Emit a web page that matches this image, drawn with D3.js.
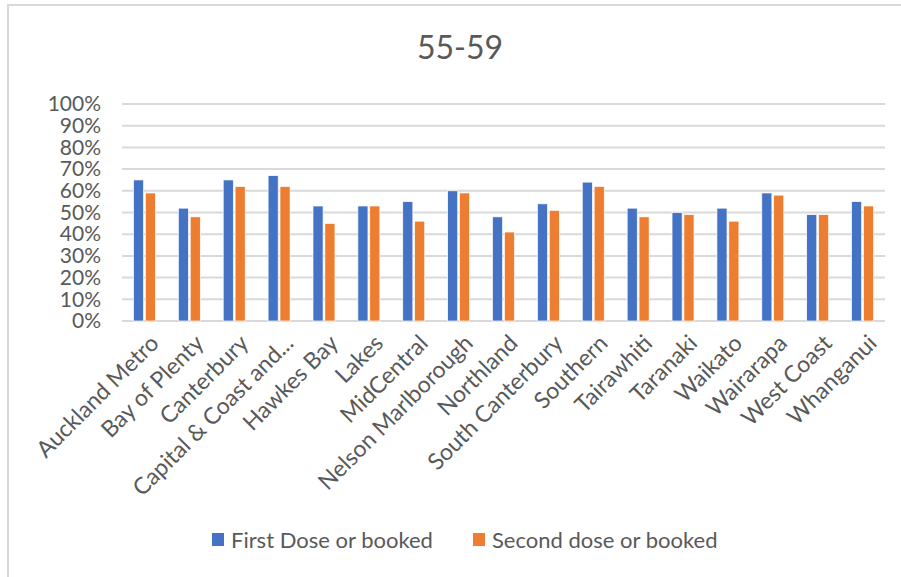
<!DOCTYPE html>
<html>
<head>
<meta charset="utf-8">
<script src="https://cdn.jsdelivr.net/npm/d3@7"></script>
<style>
  body { margin: 0; background: #fff; }
  text { font-family: Lato, "Open Sans", sans-serif; fill: #595959; }
</style>
</head>
<body>
<div id="chart"></div>
<script>
// regions (DHBs) along the x axis
const regions = ["Auckland Metro", "Bay of Plenty", "Canterbury", "Capital & Coast and...", "Hawkes Bay",
  "Lakes", "MidCentral", "Nelson Marlborough", "Northland", "South Canterbury", "Southern",
  "Tairawhiti", "Taranaki", "Waikato", "Wairarapa", "West Coast", "Whanganui"];

// share of 55-59 population, percent
const firstDose  = [65, 52, 65, 67, 53, 53, 55, 60, 48, 54, 64, 52, 50, 52, 59, 49, 55];
const secondDose = [59, 48, 62, 62, 45, 53, 46, 59, 41, 51, 62, 48, 49, 46, 58, 49, 53];

const seriesNames = ["First Dose or booked", "Second dose or booked"];
const seriesColors = ["#4472C4", "#ED7D31"];
const yTicks = [0, 10, 20, 30, 40, 50, 60, 70, 80, 90, 100];

const W = 901, H = 577;
const plot = { left: 122, right: 885, top: 104, bottom: 321 };

const svg = d3.select("#chart").append("svg")
    .attr("width", W)
    .attr("height", H);

// chart frame (only top/left edges are visible in the crop)
svg.append("rect")
    .attr("x", 8).attr("y", 5)
    .attr("width", 1000).attr("height", 1000)
    .attr("fill", "none")
    .attr("stroke", "#d9d9d9")
    .attr("stroke-width", 2);

svg.append("text")
    .attr("x", 460)
    .attr("y", 59)
    .attr("text-anchor", "middle")
    .style("font-size", "32px")
    .text("55-59");

const x0 = d3.scaleBand().domain(regions).range([plot.left, plot.right])
    .paddingInner(0.51).paddingOuter(0.255);
const x1 = d3.scaleBand().domain([0, 1]).range([0, x0.bandwidth()]).paddingInner(0.15);
const y = d3.scaleLinear().domain([0, 100]).range([plot.bottom, plot.top]);

// gridlines
svg.append("g")
    .selectAll("line")
    .data(yTicks)
    .enter().append("line")
    .attr("x1", plot.left).attr("x2", plot.right)
    .attr("y1", d => y(d)).attr("y2", d => y(d))
    .attr("stroke", "#d9d9d9")
    .attr("stroke-width", 2);

// y axis labels
const yAxis = svg.append("g")
    .attr("transform", `translate(${plot.left - 21},0)`)
    .call(d3.axisLeft(y).tickValues(yTicks).tickSize(0).tickPadding(0).tickFormat(d => d + "%"));
yAxis.select(".domain").remove();
yAxis.selectAll("text")
    .style("font-family", "Lato, sans-serif")
    .style("font-size", "21px")
    .style("fill", "#595959");

// bars
const rows = regions.map((r, i) => ({ region: r, vals: [firstDose[i], secondDose[i]] }));

svg.append("g")
    .selectAll("g")
    .data(rows)
    .enter().append("g")
    .attr("transform", d => `translate(${x0(d.region)},0)`)
    .selectAll("rect")
    .data(d => d.vals.map((v, k) => ({ k: k, v: v })))
    .enter().append("rect")
    .attr("x", d => x1(d.k))
    .attr("y", d => y(d.v))
    .attr("width", x1.bandwidth())
    .attr("height", d => y(0) - y(d.v))
    .attr("fill", d => seriesColors[d.k])
    .attr("stroke", "#fff")
    .attr("stroke-width", 0.7);

// x axis labels, rotated
const xAxis = svg.append("g")
    .attr("transform", `translate(0,${plot.bottom + 10})`)
    .call(d3.axisBottom(x0).tickSize(0).tickPadding(0));
xAxis.select(".domain").remove();
xAxis.selectAll("text")
    .style("font-family", "Lato, sans-serif")
    .style("font-size", "23px")
    .style("fill", "#595959")
    .attr("text-anchor", "end")
    .attr("dy", "0.35em")
    .attr("transform", "translate(10,8) rotate(-45)");

// legend
const legend = svg.append("g")
    .selectAll("g")
    .data(seriesNames)
    .enter().append("g")
    .attr("transform", (d, i) => `translate(${i === 0 ? 212 : 473},533)`);

legend.append("rect")
    .attr("width", 12).attr("height", 13)
    .attr("fill", (d, i) => seriesColors[i]);

legend.append("text")
    .attr("x", 19)
    .attr("y", 7)
    .attr("dy", "0.35em")
    .style("font-size", "22px")
    .text(d => d);
</script>
</body>
</html>
